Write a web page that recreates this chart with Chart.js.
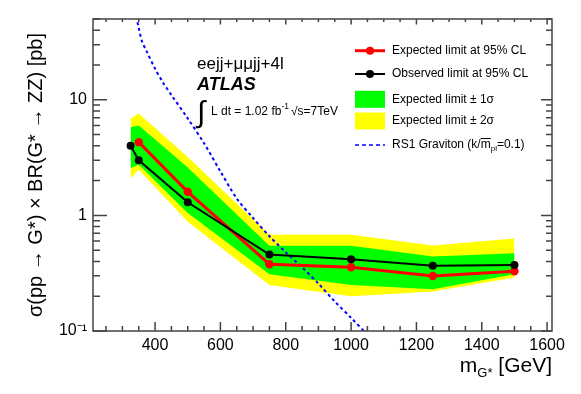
<!DOCTYPE html>
<html>
<head>
<meta charset="utf-8">
<script src="https://cdn.jsdelivr.net/npm/chart.js@4.4.1/dist/chart.umd.min.js"></script>
<style>
  body { margin: 0; background: #fff; }
  canvas { display: block; }
</style>
</head>
<body>
<canvas id="limitChart" width="581" height="394"></canvas>
<script>
// Graviton masses (GeV) and limits (pb)
const massesObs = [325, 350, 500, 750, 1000, 1250, 1500];
const observed = [4.0, 3.0, 1.3, 0.458, 0.418, 0.366, 0.372];
const massesExp = [350, 500, 750, 1000, 1250, 1500];
const expected = [4.3, 1.6, 0.378, 0.356, 0.299, 0.329];

// bands of the expected limit
const massesBand = [325, 350, 500, 750, 1000, 1250, 1500];
const band2Up = [6.9, 7.6, 3.2, 0.68, 0.68, 0.55, 0.63];
const band1Up = [5.8, 6.0, 2.6, 0.545, 0.545, 0.44, 0.47];
const band1Down = [2.56, 2.74, 1.05, 0.31, 0.25, 0.23, 0.31];
const band2Down = [2.1, 2.48, 0.88, 0.25, 0.20, 0.22, 0.29];

// RS1 graviton theory curve
const massesRS = [330, 340, 350, 360, 375, 400, 425, 450, 500, 550, 600, 650, 700, 750, 800, 850, 900, 950, 1000, 1050];
const rsGraviton = [75, 56, 42, 32, 26, 18.6, 14, 11, 6.9, 4.2, 2.4, 1.4, 0.95, 0.66, 0.48, 0.355, 0.257, 0.18, 0.13, 0.093];

// tick labels
const xTickLabels = [400, 600, 800, 1000, 1200, 1400, 1600];
const yTickLabels = [0.1, 1, 10];

const FONT = "'Liberation Sans', Arial, sans-serif";
Chart.defaults.font.family = FONT;
Chart.defaults.color = '#000';

function toPoints(xs, ys) {
    return xs.map((x, i) => ({ x: x, y: ys[i] }));
}

function bandSet(data, color, fill, order) {
    return {
        data: data, fill: fill, backgroundColor: color,
        borderColor: 'rgba(0,0,0,0)', borderWidth: 0,
        pointRadius: 0, tension: 0, order: order
    };
}

// ROOT-like frame with ticks inside the frame
const framePlugin = {
    id: 'frame',
    afterDatasetsDraw(chart) {
        const { ctx, chartArea: a, scales } = chart;
        const xs = scales.x, ys = scales.y;
        ctx.save();
        ctx.strokeStyle = '#444';
        ctx.lineWidth = 1.5;
        ctx.beginPath();
        // x ticks every 50 GeV, major every 200
        for (let m = 250; m <= 1600; m += 50) {
            const px = xs.getPixelForValue(m);
            const len = m % 200 === 0 ? 9 : 5;
            ctx.moveTo(px, a.bottom); ctx.lineTo(px, a.bottom - len);
            ctx.moveTo(px, a.top); ctx.lineTo(px, a.top + len * 0.6);
        }
        // y ticks: decades and 2..9
        for (let d = 0.1; d <= 10; d *= 10) {
            for (let k = 1; k <= 9; k++) {
                const v = d * k;
                if (v > 50) break;
                const py = ys.getPixelForValue(v);
                const major = k === 1;
                ctx.moveTo(a.left, py); ctx.lineTo(a.left + (major ? 14 : 7), py);
                ctx.moveTo(a.right, py); ctx.lineTo(a.right - (major ? 11 : 6), py);
            }
        }
        ctx.stroke();
        ctx.strokeRect(a.left, a.top, a.right - a.left, a.bottom - a.top);
        ctx.restore();
    },
    afterDraw(chart) {
        const { ctx, chartArea: a } = chart;
        ctx.save();
        ctx.fillStyle = '#000';
        ctx.textBaseline = 'alphabetic';

        // x axis title m_G* [GeV]
        ctx.font = '21px ' + FONT;
        const wM = ctx.measureText('m').width;
        const wRest = ctx.measureText(' [GeV]').width;
        ctx.font = '13px ' + FONT;
        const wSub = ctx.measureText('G*').width;
        let x0 = a.right - (wM + wSub + wRest);
        ctx.font = '21px ' + FONT;
        ctx.fillText('m', x0, 372);
        ctx.font = '13px ' + FONT;
        ctx.fillText('G*', x0 + wM, 377);
        ctx.font = '21px ' + FONT;
        ctx.fillText(' [GeV]', x0 + wM + wSub, 372);

        // analysis labels
        ctx.font = '17px ' + FONT;
        ctx.fillText('eejj+\u03bc\u03bcjj+4l', 197, 69);
        ctx.font = 'italic bold 18px ' + FONT;
        ctx.fillText('ATLAS', 197, 90);
        ctx.font = '30px ' + FONT;
        ctx.fillText('\u222b', 197, 122);
        ctx.font = '12px ' + FONT;
        let tx = 211;
        ctx.fillText('L dt = 1.02 fb', tx, 115);
        tx += ctx.measureText('L dt = 1.02 fb').width;
        ctx.font = '8.5px ' + FONT;
        ctx.fillText('-1', tx, 109);
        tx += ctx.measureText('-1').width + 2;
        ctx.font = '12px ' + FONT;
        ctx.fillText('\u221as=7TeV', tx, 115);

        // legend
        const lx = 355, lw = 30, txtX = 392;
        const rows = [50.7, 74, 99.3, 121, 145];
        ctx.lineWidth = 3;
        ctx.strokeStyle = '#ff0000';
        ctx.fillStyle = '#ff0000';
        ctx.beginPath(); ctx.moveTo(lx, rows[0]); ctx.lineTo(lx + lw, rows[0]); ctx.stroke();
        ctx.beginPath(); ctx.arc(lx + lw / 2, rows[0], 4, 0, Math.PI * 2); ctx.fill();
        ctx.lineWidth = 2;
        ctx.strokeStyle = '#000';
        ctx.fillStyle = '#000';
        ctx.beginPath(); ctx.moveTo(lx, rows[1]); ctx.lineTo(lx + lw, rows[1]); ctx.stroke();
        ctx.beginPath(); ctx.arc(lx + lw / 2, rows[1], 4, 0, Math.PI * 2); ctx.fill();
        ctx.fillStyle = '#00ff00';
        ctx.fillRect(lx, rows[2] - 8.5, lw, 17);
        ctx.fillStyle = '#ffff00';
        ctx.fillRect(lx, rows[3] - 8.5, lw, 17);
        ctx.strokeStyle = '#0000ff';
        ctx.lineWidth = 1.5;
        ctx.setLineDash([4, 3]);
        ctx.beginPath(); ctx.moveTo(lx, rows[4]); ctx.lineTo(lx + lw, rows[4]); ctx.stroke();
        ctx.setLineDash([]);

        ctx.fillStyle = '#000';
        ctx.textBaseline = 'middle';
        ctx.font = '12px ' + FONT;
        ctx.fillText('Expected limit at 95% CL', txtX, rows[0]);
        ctx.fillText('Observed limit at 95% CL', txtX, rows[1]);
        ctx.fillText('Expected limit \u00b1 1\u03c3', txtX, rows[2]);
        ctx.fillText('Expected limit \u00b1 2\u03c3', txtX, rows[3]);
        let rx = txtX;
        ctx.fillText('RS1 Graviton (k/', rx, rows[4]);
        rx += ctx.measureText('RS1 Graviton (k/').width;
        const mW = ctx.measureText('m').width;
        ctx.fillText('m', rx, rows[4]);
        ctx.lineWidth = 1;
        ctx.strokeStyle = '#000';
        ctx.beginPath(); ctx.moveTo(rx, rows[4] - 6.5); ctx.lineTo(rx + mW, rows[4] - 6.5); ctx.stroke();
        rx += mW;
        ctx.font = '8px ' + FONT;
        ctx.fillText('pl', rx, rows[4] + 4);
        rx += ctx.measureText('pl').width;
        ctx.font = '12px ' + FONT;
        ctx.fillText('=0.1)', rx, rows[4]);
        ctx.restore();
    }
};

const ctx = document.getElementById('limitChart').getContext('2d');
new Chart(ctx, {
    type: 'line',
    data: {
        datasets: [
            {
                label: 'Observed limit at 95% CL',
                data: toPoints(massesObs, observed),
                borderColor: '#000', backgroundColor: '#000',
                borderWidth: 2, pointRadius: 4, pointBorderWidth: 0,
                tension: 0, fill: false, order: 0
            },
            {
                label: 'Expected limit at 95% CL',
                data: toPoints(massesExp, expected),
                borderColor: '#ff0000', backgroundColor: '#ff0000',
                borderWidth: 3, pointRadius: 4.2, pointBorderWidth: 0,
                tension: 0, fill: false, order: 1
            },
            {
                label: 'RS1 Graviton',
                data: toPoints(massesRS, rsGraviton),
                borderColor: '#0000ff', borderWidth: 2, borderDash: [3, 3],
                pointRadius: 0, tension: 0.3, fill: false, order: 2
            },
            bandSet(toPoints(massesBand, band1Up), '#00ff00', '+1', 3),
            bandSet(toPoints(massesBand, band1Down), '#00ff00', false, 3),
            bandSet(toPoints(massesBand, band2Up), '#ffff00', '+1', 4),
            bandSet(toPoints(massesBand, band2Down), '#ffff00', false, 4)
        ]
    },
    options: {
        responsive: false,
        animation: false,
        events: [],
        layout: { padding: { top: 19, right: 29, left: 0, bottom: 0 } },
        plugins: {
            legend: { display: false },
            tooltip: { enabled: false }
        },
        scales: {
            x: {
                type: 'linear',
                min: 210, max: 1615,
                grid: { display: false, drawTicks: false },
                border: { display: false },
                afterBuildTicks: (s) => { s.ticks = xTickLabels.map(v => ({ value: v })); },
                afterFit: (s) => { s.height = 63; },
                ticks: {
                    autoSkip: false, maxRotation: 0, padding: 5,
                    font: { size: 16 },
                    callback: (v) => String(v)
                }
            },
            y: {
                type: 'logarithmic',
                min: 0.1, max: 50,
                grid: { display: false, drawTicks: false },
                border: { display: false },
                afterBuildTicks: (s) => { s.ticks = yTickLabels.map(v => ({ value: v })); },
                afterFit: (s) => { s.width = 93; },
                ticks: {
                    autoSkip: false, padding: 6,
                    font: { size: 16 },
                    callback: (v) => v === 0.1 ? '10\u207b\u00b9' : String(v)
                },
                title: {
                    display: true,
                    text: '\u03c3(pp \u2192 G*) \u00d7 BR(G* \u2192 ZZ) [pb]',
                    font: { size: 20 },
                    padding: { top: 24, bottom: 0 }
                }
            }
        }
    },
    plugins: [framePlugin]
});
</script>
</body>
</html>
